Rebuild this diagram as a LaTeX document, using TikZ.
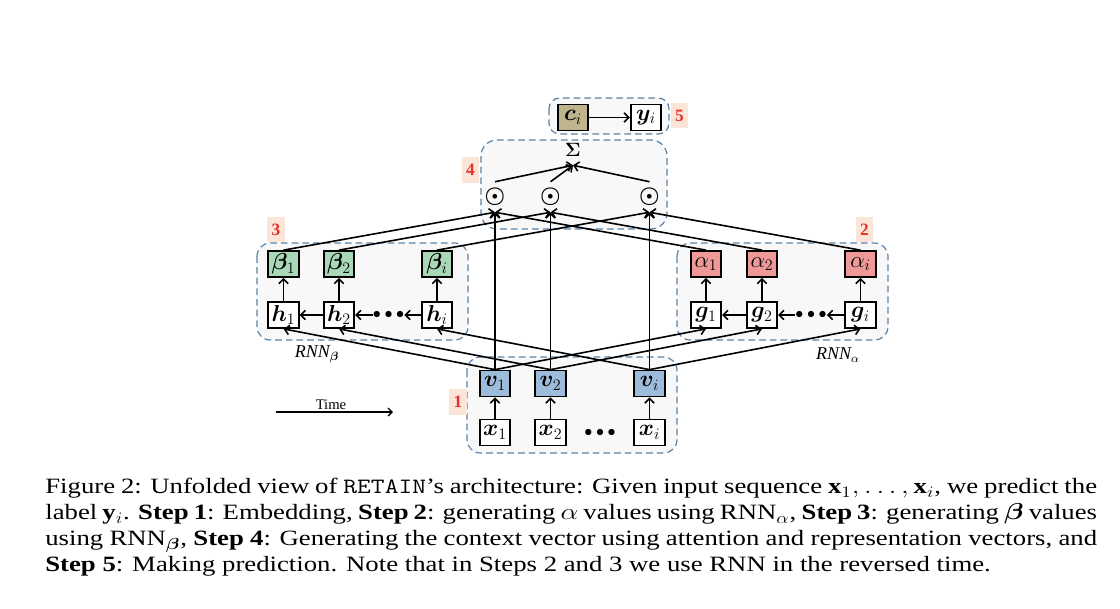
\documentclass[tikz,border=0pt]{standalone}
\usepackage{amsmath}
\usepackage{bm}
\usepackage{fontspec}
\setmainfont{Liberation Serif}
\usetikzlibrary{arrows.meta}

\definecolor{betafill}{RGB}{168,216,184}
\definecolor{alphafill}{RGB}{238,152,152}
\definecolor{vfill}{RGB}{157,187,219}
\definecolor{cfill}{RGB}{192,180,140}
\definecolor{stageline}{RGB}{91,130,168}
\definecolor{stagefill}{RGB}{248,248,248}
\definecolor{labelbg}{RGB}{251,228,216}
\definecolor{labelred}{RGB}{232,48,40}

\tikzset{
  cell/.style={draw, line width=1.3pt, minimum width=23pt, minimum height=19.5pt, inner sep=0pt, font=\fontsize{18}{18}\selectfont},
  betacell/.style={cell, fill=betafill},
  alphacell/.style={cell, fill=alphafill},
  vcell/.style={cell, fill=vfill},
  ccell/.style={cell, fill=cfill},
  plaincell/.style={cell, fill=white},
  prodnode/.style={inner sep=0pt, minimum width=12pt, minimum height=22.5pt, font=\fontsize{19}{19}\selectfont},
  dotsnode/.style={inner sep=0pt, font=\fontsize{13}{13}\selectfont},
  link/.style={line width=1.2pt, -{Straight Barb[length=3.5pt,width=7pt]}},
  stage/.style={draw=stageline, dash pattern=on 5pt off 3pt, line width=0.9pt, fill=stagefill},
  steplabel/.style={fill=labelbg, text=labelred, font=\fontsize{13}{13}\selectfont\bfseries, minimum width=13pt, minimum height=19pt, inner sep=0pt},
  rnnlabel/.style={font=\fontsize{13.5}{13.5}\selectfont},
}

\begin{document}
\begin{tikzpicture}[x=0.75pt,y=0.75pt,yscale=-1,xscale=1]
\useasboundingbox (0,0) rectangle (1120,608);

%Shape: Rounded Rect [id:stage1]
\draw [stage, rounded corners=10pt] (467,357) rectangle (677,453);
%Shape: Rounded Rect [id:stage2]
\draw [stage, rounded corners=10pt] (677,243) rectangle (888,340);
%Shape: Rounded Rect [id:stage3]
\draw [stage, rounded corners=10pt] (257,243) rectangle (468,340);
%Shape: Rounded Rect [id:stage4]
\draw [stage, rounded corners=12pt] (481,140) rectangle (667,229);
%Shape: Rounded Rect [id:stage5]
\draw [stage, rounded corners=8pt] (549,98) rectangle (669,134);

% Step labels
\node [steplabel] (lab1) at (458,402) {1};
\node [steplabel] (lab2) at (864.5,229.5) {2};
\node [steplabel] (lab3) at (276,229.5) {3};
\node [steplabel] (lab4) at (470.5,170) {4};
\node [steplabel] (lab5) at (679.5,115.5) {5};

% Step 1: inputs and embeddings
\node [plaincell] (x1) at (495,432.5) {$\bm{x}_1$};
\node [plaincell] (x2) at (550.5,432.5) {$\bm{x}_2$};
\node [dotsnode] (xdots) at (600,433) {$\bullet\bullet\bullet$};
\node [plaincell] (xi) at (649.5,432.5) {$\bm{x}_i$};
\node [vcell] (v1) at (495,383.5) {$\bm{v}_1$};
\node [vcell] (v2) at (550.5,383.5) {$\bm{v}_2$};
\node [vcell] (vi) at (649.5,383.5) {$\bm{v}_i$};

% Step 2: RNN alpha
\node [plaincell] (g1) at (706,315) {$\bm{g}_1$};
\node [plaincell] (g2) at (762,315) {$\bm{g}_2$};
\node [dotsnode] (gdots) at (811,315) {$\bullet\bullet\bullet$};
\node [plaincell] (gi) at (860.5,315) {$\bm{g}_i$};
\node [alphacell] (a1) at (706,264) {$\alpha_1$};
\node [alphacell] (a2) at (762,264) {$\alpha_2$};
\node [alphacell] (ai) at (860.5,264) {$\alpha_i$};

% Step 3: RNN beta
\node [plaincell] (h1) at (283.5,315) {$\bm{h}_1$};
\node [plaincell] (h2) at (339,315) {$\bm{h}_2$};
\node [dotsnode] (hdots) at (388.5,315) {$\bullet\bullet\bullet$};
\node [plaincell] (hi) at (437,315) {$\bm{h}_i$};
\node [betacell] (b1) at (283.5,264) {$\bm{\beta}_1$};
\node [betacell] (b2) at (339,264) {$\bm{\beta}_2$};
\node [betacell] (bi) at (437,264) {$\bm{\beta}_i$};

% Step 4: attention and sum
\node [prodnode] (p1) at (495,197) {$\bm{\odot}$};
\node [prodnode] (p2) at (550.5,197) {$\bm{\odot}$};
\node [prodnode] (pi) at (649.5,197) {$\bm{\odot}$};
\node [inner sep=0pt, minimum height=22.5pt, font=\fontsize{15}{15}\selectfont] (sig) at (573,150) {$\bm{\Sigma}$};

% Step 5: context and prediction
\node [ccell] (ci) at (573,117.5) {$\bm{c}_i$};
\node [plaincell] (yi) at (646,117.5) {$\bm{y}_i$};

% Text Node
\node [rnnlabel] (rnnb) at (317,354) {$\mathit{RNN}_{\bm{\beta}}$};
% Text Node
\node [rnnlabel] (rnna) at (838,355) {$\mathit{RNN}_{\alpha}$};

% Time arrow
\coordinate (t0) at (276,412);
\coordinate (t1) at (393,412);
\draw [line width=1pt, -{Straight Barb[length=3pt,width=6pt]}] (t0) -- (t1);
\node [font=\fontsize{11}{11}\selectfont, anchor=south, inner sep=1pt] (timelab) at (331,411) {Time};

% embedding and attention arrows
\foreach \j in {1,2,i}{
  \draw [link] (x\j) -- (v\j);
  \draw [link] (v\j.north) -- (p\j.south);
  \draw [link] (v\j.north) -- (h\j.south);
  \draw [link] (v\j.north) -- (g\j.south);
  \draw [link] (h\j) -- (b\j);
  \draw [link] (g\j) -- (a\j);
  \draw [link] (b\j.north) -- (p\j.south);
  \draw [link] (a\j.north) -- (p\j.south);
  \draw [link] (p\j.north) -- (sig.south);
}

% reversed time recurrences
\draw [link] (h2) -- (h1);
\draw [link] (hdots) -- (h2);
\draw [link] (hi) -- (hdots);
\draw [link] (g2) -- (g1);
\draw [link] (gdots) -- (g2);
\draw [link] (gi) -- (gdots);

\draw [link] (ci) -- (yi);

% Caption
\node [anchor=north west, inner sep=0pt, xscale=1.223, yscale=-1, transform shape, text width=645pt, align=justify, font=\fontsize{16.4}{19.5}\selectfont] (caption) at (45,478)
{Figure 2: Unfolded view of \texttt{RETAIN}'s architecture: Given input sequence $\mathbf{x}_1,\ldots,\mathbf{x}_i$, we predict the\linebreak
label $\mathbf{y}_i$. \textbf{Step 1}: Embedding, \textbf{Step 2}: generating $\alpha$ values using $\mathrm{RNN}_\alpha$, \textbf{Step 3}: generating $\bm{\beta}$ values\linebreak
using $\mathrm{RNN}_{\bm{\beta}}$, \textbf{Step 4}: Generating the context vector using attention and representation vectors, and\linebreak
\textbf{Step 5}: Making prediction. Note that in Steps 2 and 3 we use RNN in the reversed time.};

\end{tikzpicture}
\end{document}
